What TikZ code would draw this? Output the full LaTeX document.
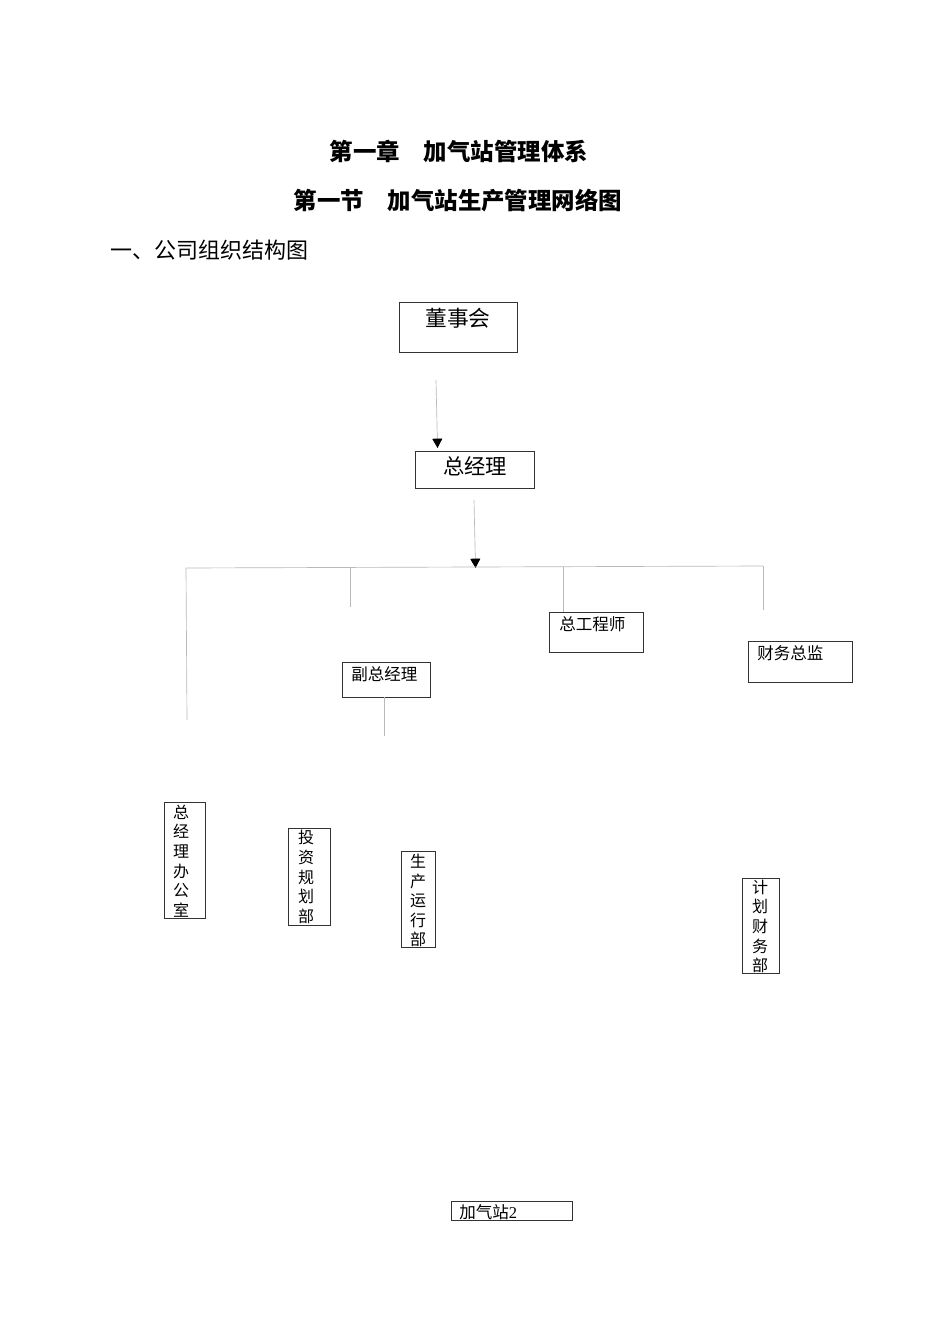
\documentclass[tikz,border=0pt]{standalone}
\usepackage{fontspec}
\setmainfont{Liberation Serif}
\newfontfamily\cjk{Noto Sans CJK SC}
\usetikzlibrary{arrows.meta}

\begin{document}
\begin{tikzpicture}[x=0.75pt,y=0.75pt,yscale=-1,xscale=1,
	box/.style={draw={rgb, 255:red, 51; green, 51; blue, 51 }, line width=0.6pt, inner sep=0pt},
	conn/.style={draw={rgb, 255:red, 185; green, 185; blue, 185 }, line width=0.5pt},
	tip/.style={-{Triangle[color=black,width=7.5pt,length=7pt]}},
	lbl/.style={font=\cjk\fontsize{12.4}{14}\selectfont, inner sep=0pt},
	vlbl/.style={font=\cjk\fontsize{12}{14.7}\selectfont, align=center, inner sep=0pt}]
		\useasboundingbox (0,0) rectangle (950,1344); %page of the reference
		
		% Title Text
		\draw (459,151) node [font=\cjk\bfseries\fontsize{17.6}{20}\selectfont]  {第一章　加气站管理体系};
		% Title Text
		\draw (458,201) node [font=\cjk\bfseries\fontsize{17.6}{20}\selectfont]  {第一节　加气站生产管理网络图};
		% Text Node
		\draw (110,250) node [anchor=west, inner sep=0pt, font=\cjk\fontsize{16.5}{20}\selectfont]  {一、公司组织结构图};
		
		%Shape: Rectangle [id:dongshi] 
		\node [box, minimum width=88.5pt, minimum height=37.5pt] (dongshi) at (458,327) {};
		%Shape: Rectangle [id:zjl] 
		\node [box, minimum width=89.25pt, minimum height=27.75pt] (zjl) at (474.5,469.5) {};
		%Shape: Rectangle [id:zgcs] 
		\node [box, minimum width=70.5pt, minimum height=30pt] (zgcs) at (596,632) {};
		%Shape: Rectangle [id:cwzj] 
		\node [box, minimum width=78pt, minimum height=30.75pt] (cwzj) at (800,661.5) {};
		%Shape: Rectangle [id:fzjl] 
		\node [box, minimum width=66pt, minimum height=26.25pt] (fzjl) at (386,679.5) {};
		%Shape: Rectangle [id:bgs] 
		\node [box, minimum width=30.75pt, minimum height=87pt] (bgs) at (184.5,860) {};
		%Shape: Rectangle [id:tzgh] 
		\node [box, minimum width=31.5pt, minimum height=72.75pt] (tzgh) at (309,876.5) {};
		%Shape: Rectangle [id:scyx] 
		\node [box, minimum width=25.5pt, minimum height=72pt] (scyx) at (418,899) {};
		%Shape: Rectangle [id:jhcw] 
		\node [box, minimum width=27.75pt, minimum height=71.25pt] (jhcw) at (760.5,925.5) {};
		%Shape: Rectangle [id:jqz] 
		\node [box, minimum width=90.75pt, minimum height=14.25pt] (jqz) at (511.5,1210.5) {};
		
		%Straight Lines [id:a1] 
		\coordinate (a1s) at (436,380);
		\coordinate (a1e) at (437.5,448);
		\draw [conn, tip]   (a1s) -- (a1e) ;
		%Straight Lines [id:a2] 
		\coordinate (a2s) at (474,500);
		\coordinate (a2e) at (475.5,568);
		\draw [conn, tip]   (a2s) -- (a2e) ;
		
		%Straight Lines [id:bus] 
		\coordinate (busl) at (186,568);
		\coordinate (busr) at (763,566);
		\draw [conn]   (busl) -- (busr) ;
		%Straight Lines [id:d1] 
		\coordinate (d1) at (187,720);
		\draw [conn]   (busl) -- (d1) ;
		%Straight Lines [id:d2] 
		\coordinate (d2s) at (350,567.5);
		\coordinate (d2e) at (350,607);
		\draw [conn]   (d2s) -- (d2e) ;
		%Straight Lines [id:d3] 
		\coordinate (d3s) at (563,567);
		\draw [conn]   (d3s) -- (d3s |- zgcs.north) ;
		%Straight Lines [id:d4] 
		\coordinate (d4) at (763,610);
		\draw [conn]   (busr) -- (d4) ;
		%Straight Lines [id:d5] 
		\coordinate (d5s) at (384,697);
		\coordinate (d5e) at (384,736);
		\draw [conn]   (d5s |- fzjl.south) -- (d5e) ;
		
		% Text Node
		\draw (458,318) node [font=\cjk\fontsize{16.3}{18}\selectfont, inner sep=0pt] (dongshi-t) {董事会};
		% Text Node
		\draw (475,466) node [font=\cjk\fontsize{16}{18}\selectfont, inner sep=0pt] (zjl-t) {总经理};
		% Text Node
		\draw (559,624) node [lbl, anchor=west] (zgcs-t) {总工程师};
		% Text Node
		\draw (757,653) node [lbl, anchor=west] (cwzj-t) {财务总监};
		% Text Node
		\draw (351,674) node [lbl, anchor=west] (fzjl-t) {副总经理};
		% Text Node
		\draw (181,861) node [vlbl] (bgs-t) {总\\经\\理\\办\\公\\室};
		% Text Node
		\draw (306,877) node [vlbl] (tzgh-t) {投\\资\\规\\划\\部};
		% Text Node
		\draw (418,900.5) node [vlbl] (scyx-t) {生\\产\\运\\行\\部};
		% Text Node
		\draw (760,926.5) node [vlbl] (jhcw-t) {计\\划\\财\\务\\部};
		% Text Node
		\draw (459,1212) node [lbl, anchor=west] (jqz-t) {加气站\fontspec{Liberation Serif}2};
		
\end{tikzpicture}
\end{document}
